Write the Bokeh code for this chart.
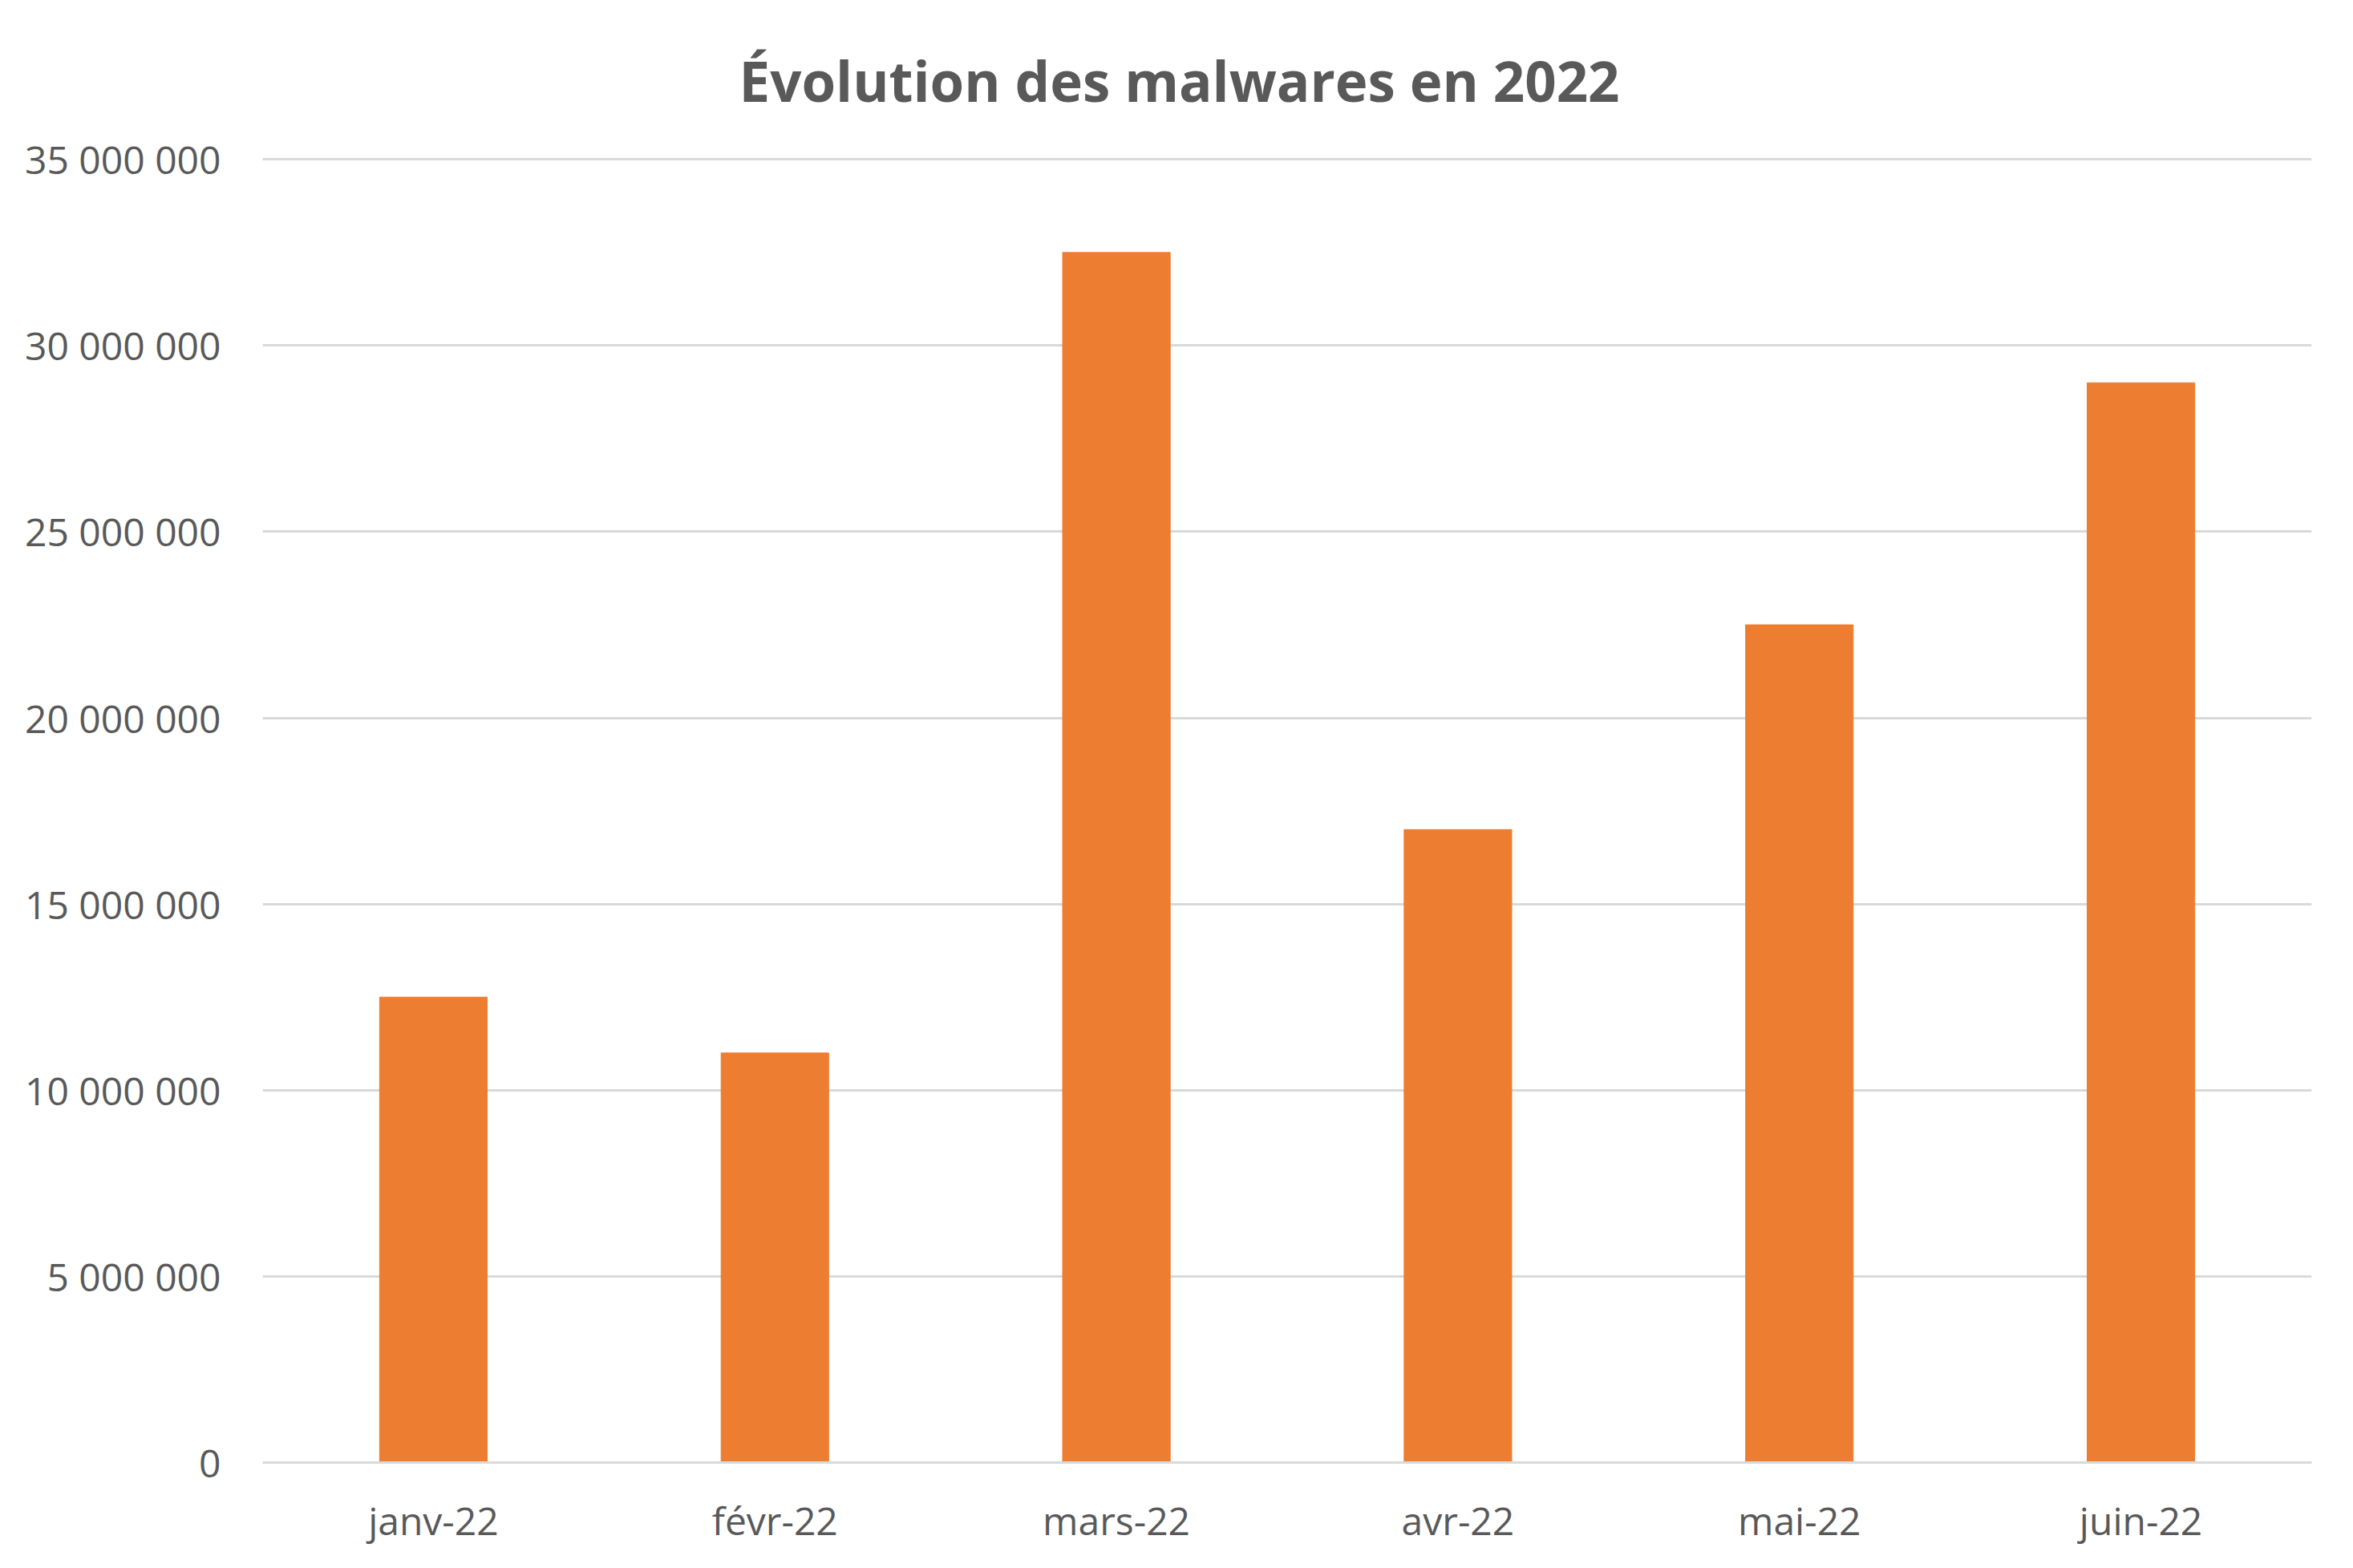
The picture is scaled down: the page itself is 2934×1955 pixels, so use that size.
from bokeh.plotting import figure
from bokeh.models import Range1d, FactorRange, CustomJSTickFormatter, FixedTicker
from bokeh.embed import file_html
from bokeh.resources import INLINE

months = ["janv-22", "févr-22", "mars-22", "avr-22", "mai-22", "juin-22"]
malwares = [12500000, 11000000, 32500000, 17000000, 22500000, 29000000]
y_ticks = [0, 5000000, 10000000, 15000000, 20000000, 25000000, 30000000, 35000000]
title_text = "Évolution des malwares en 2022"

FONT = "Open Sans"
GREY = "#595959"

p = figure(x_range=FactorRange(*months), y_range=Range1d(0, 35070000),
           width=2918, height=1939, output_backend="svg", toolbar_location=None,
           title=title_text, min_border_left=327, min_border_right=36,
           min_border_top=195, min_border_bottom=116)

p.vbar(x=months, top=malwares, width=0.315, color="#ED7D31")

p.title.align = "left"
p.title.text_font = FONT
p.title.text_font_style = "bold"
p.title.text_font_size = "69px"
p.title.text_color = GREY
p.title.offset = 594
p.title.standoff = 98

p.outline_line_color = None
p.background_fill_color = "white"
p.border_fill_color = "white"

p.xgrid.grid_line_color = None
p.ygrid.grid_line_color = "#D9D9D9"
p.ygrid.grid_line_width = 3

p.yaxis.ticker = FixedTicker(ticks=y_ticks)
p.yaxis.formatter = CustomJSTickFormatter(code="""
    return Math.round(tick).toString().replace(/\\B(?=(\\d{3})+(?!\\d))/g, ' ');
""")
p.yaxis.axis_line_color = None
p.yaxis.major_tick_line_color = None
p.yaxis.minor_tick_line_color = None
p.yaxis.major_label_standoff = 46
p.yaxis.major_label_text_font = FONT
p.yaxis.major_label_text_font_size = "48px"
p.yaxis.major_label_text_color = GREY

p.xaxis.axis_line_color = "#D9D9D9"
p.xaxis.axis_line_width = 3
p.xaxis.major_tick_line_color = None
p.xaxis.minor_tick_line_color = None
p.xaxis.major_label_standoff = 33
p.xaxis.major_label_text_font = FONT
p.xaxis.major_label_text_font_size = "48px"
p.xaxis.major_label_text_color = GREY

p.x_range.range_padding = 0
p.x_range.group_padding = 0
p.x_range.factor_padding = 0

open("out.html", "w").write(file_html(p, INLINE))
